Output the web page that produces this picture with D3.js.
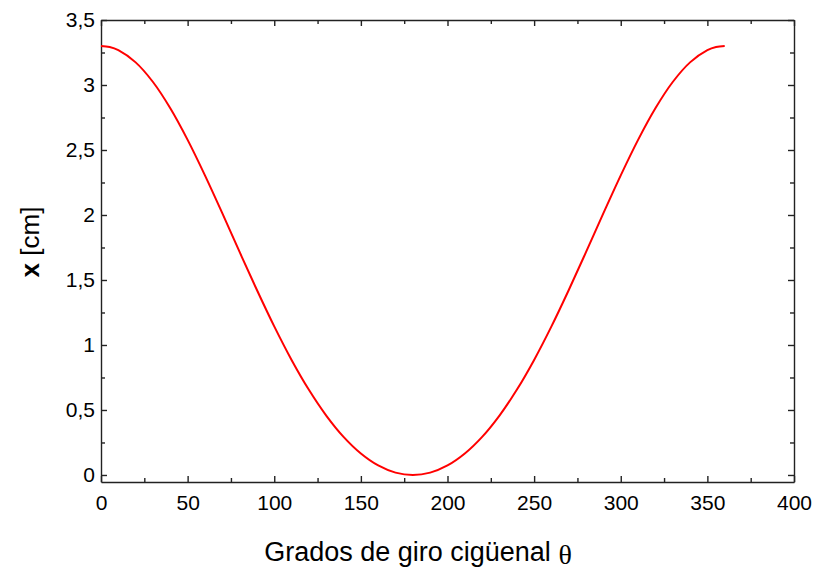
<!DOCTYPE html>
<html>
<head>
<meta charset="utf-8">
<script src="https://cdn.jsdelivr.net/npm/d3@7"></script>
<style>
	body { margin: 0; background: #fff; }
	svg { display: block; font-family: Arial, 'Liberation Sans', sans-serif; }
</style>
</head>
<body>
<script>
// crank angle (degrees) and piston position x (cm)
const theta = [0, 5, 10, 20, 30, 40, 50, 60, 70, 80, 90, 100, 110, 120, 130, 140, 150, 160, 170, 180,
	190, 200, 210, 220, 230, 240, 250, 260, 270, 280, 290, 300, 310, 320, 330, 340, 350, 355, 360];
const xPos = [3.300, 3.292, 3.268, 3.174, 3.023, 2.821, 2.578, 2.305, 2.014, 1.716, 1.423, 1.143, 0.885, 0.655, 0.457, 0.293, 0.165, 0.073, 0.018, 0.0,
	0.018, 0.073, 0.165, 0.293, 0.457, 0.655, 0.885, 1.143, 1.423, 1.716, 2.014, 2.305, 2.578, 2.821, 3.023, 3.174, 3.268, 3.292, 3.300];
const xTicks = [0, 50, 100, 150, 200, 250, 300, 350, 400];
const xMinor = [25, 75, 125, 175, 225, 275, 325, 375];
const yTicks = [0, 0.5, 1, 1.5, 2, 2.5, 3, 3.5];
const yMinor = [0.25, 0.75, 1.25, 1.75, 2.25, 2.75, 3.25];

const width = 816;
const height = 572;
const margin = { top: 20, right: 22, bottom: 90, left: 101 };

const locale = d3.formatLocale({ decimal: ',', thousands: '.', grouping: [3], currency: ['', ' €'] });
const fmt = locale.format('~g');

const x = d3.scaleLinear().domain([0, 400]).range([margin.left, width - margin.right]);
const y = d3.scaleLinear().domain([-0.054, 3.5]).range([height - margin.bottom, margin.top]);

const svg = d3.select('body').append('svg').attr('width', width).attr('height', height);

const axisColor = '#222';

function styleAxis(g) {
	g.selectAll('path, line').attr('stroke', axisColor).attr('stroke-width', 1.4);
	g.selectAll('text').attr('fill', '#000').style('font-size', '21px');
}

// bottom
svg.append('g')
	.attr('transform', `translate(0,${y.range()[0]})`)
	.call(d3.axisBottom(x).tickValues(xTicks).tickFormat((d) => d).tickSizeInner(-6).tickSizeOuter(0).tickPadding(10))
	.call(styleAxis)
	.call((g) => g.selectAll('text').attr('dy', '0.85em'));
svg.append('g')
	.attr('transform', `translate(0,${y.range()[0]})`)
	.call(d3.axisBottom(x).tickValues(xMinor).tickFormat('').tickSizeInner(-4).tickSizeOuter(0))
	.call(styleAxis)
	.call((g) => g.select('.domain').remove());

// top
svg.append('g')
	.attr('transform', `translate(0,${y.range()[1]})`)
	.call(d3.axisTop(x).tickValues(xTicks).tickFormat('').tickSizeInner(-6).tickSizeOuter(0))
	.call(styleAxis);
svg.append('g')
	.attr('transform', `translate(0,${y.range()[1]})`)
	.call(d3.axisTop(x).tickValues(xMinor).tickFormat('').tickSizeInner(-4).tickSizeOuter(0))
	.call(styleAxis)
	.call((g) => g.select('.domain').remove());

// left
svg.append('g')
	.attr('transform', `translate(${x.range()[0]},0)`)
	.call(d3.axisLeft(y).tickValues(yTicks).tickFormat(fmt).tickSizeInner(-6).tickSizeOuter(0).tickPadding(6))
	.call(styleAxis);
svg.append('g')
	.attr('transform', `translate(${x.range()[0]},0)`)
	.call(d3.axisLeft(y).tickValues(yMinor).tickFormat('').tickSizeInner(-4).tickSizeOuter(0))
	.call(styleAxis)
	.call((g) => g.select('.domain').remove());

// right
svg.append('g')
	.attr('transform', `translate(${x.range()[1]},0)`)
	.call(d3.axisRight(y).tickValues(yTicks).tickFormat('').tickSizeInner(-6).tickSizeOuter(0))
	.call(styleAxis);
svg.append('g')
	.attr('transform', `translate(${x.range()[1]},0)`)
	.call(d3.axisRight(y).tickValues(yMinor).tickFormat('').tickSizeInner(-4).tickSizeOuter(0))
	.call(styleAxis)
	.call((g) => g.select('.domain').remove());

// curve
const line = d3
	.line()
	.x((d, i) => x(theta[i]))
	.y((d) => y(d))
	.curve(d3.curveCatmullRom.alpha(0.5));

svg.append('path')
	.datum(xPos)
	.attr('fill', 'none')
	.attr('stroke', '#ff0000')
	.attr('stroke-width', 2)
	.attr('d', line);

// axis titles
const xTitle = svg.append('text')
	.attr('x', 418)
	.attr('y', 561)
	.attr('text-anchor', 'middle')
	.style('font-size', '27px')
	.attr('fill', '#000');
xTitle.append('tspan').text('Grados de giro cigüenal ');
xTitle.append('tspan')
	.style('font-family', "'Liberation Serif', 'DejaVu Serif', serif")
	.style('font-size', '28px')
	.attr('dy', 3)
	.text('θ');

const yTitle = svg.append('text')
	.attr('transform', 'translate(39,242) rotate(-90)')
	.attr('text-anchor', 'middle')
	.style('font-size', '26px')
	.attr('fill', '#000');
yTitle.append('tspan').style('font-weight', 'bold').text('x');
yTitle.append('tspan').text(' [cm]');
</script>
</body>
</html>
